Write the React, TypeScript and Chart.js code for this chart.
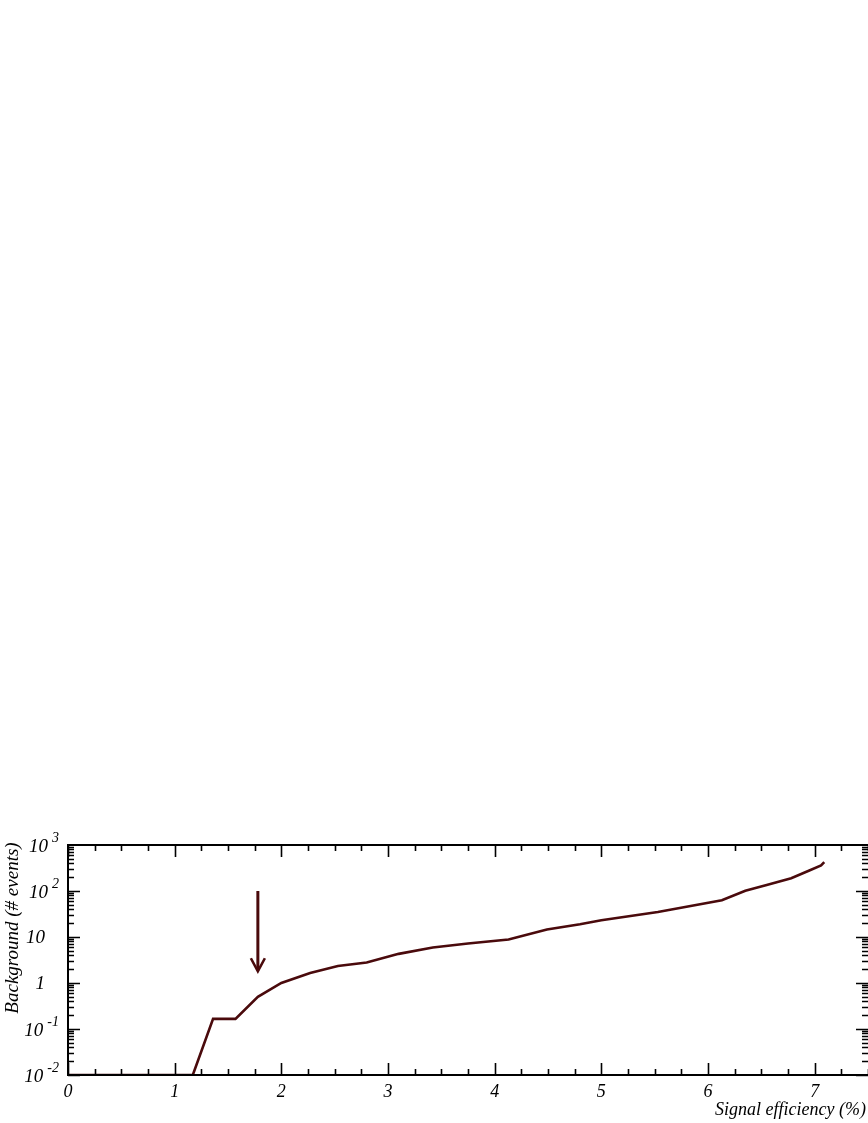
import React, { useEffect, useRef } from "react";
import { Chart, registerables } from "chart.js";

Chart.register(...registerables);

const efficiency = [0, 1.17, 1.36, 1.57, 1.78, 2.0, 2.27, 2.53, 2.8, 3.1, 3.42, 3.75, 4.13, 4.49, 4.8, 5.0, 5.53, 6.13, 6.35, 6.55, 6.78, 6.95, 7.06, 7.09];
const background = [0.01, 0.01, 0.166, 0.166, 0.5, 1.0, 1.65, 2.35, 2.78, 4.3, 5.9, 7.2, 8.8, 14.6, 19, 23.2, 35, 63, 101, 135, 190, 280, 360, 425];

const xTickValues = [0, 1, 2, 3, 4, 5, 6, 7];
const xTickLabels = ["0", "1", "2", "3", "4", "5", "6", "7"];
const yTickValues = [0.01, 0.1, 1, 10, 100, 1000];
const yTickBase = ["10", "10", "1", "10", "10", "10"];
const yTickExp = ["-2", "-1", "", "", "2", "3"];

const arrowAt = { x: 1.78, from: 100, to: 1.8 };

const xTitle = "Signal efficiency (%)";
const yTitle = "Background (# events)";

const LINE_COLOR = "#4a0a0c";
const FONT = "'Liberation Serif', 'Times New Roman', serif";

const framePlugin = {
  id: "frame",
  afterDatasetsDraw(chart: any) {
    const ctx = chart.ctx;
    const { left, right, top, bottom } = chart.chartArea;
    const xs = chart.scales.x;
    const ys = chart.scales.y;
    ctx.save();

    // arrow
    const ax = xs.getPixelForValue(arrowAt.x);
    const ay1 = ys.getPixelForValue(arrowAt.from);
    const ay2 = ys.getPixelForValue(arrowAt.to);
    ctx.strokeStyle = LINE_COLOR;
    ctx.lineWidth = 3;
    ctx.lineCap = "butt";
    ctx.beginPath();
    ctx.moveTo(ax, ay1);
    ctx.lineTo(ax, ay2 - 1);
    ctx.stroke();
    ctx.lineWidth = 2.6;
    ctx.beginPath();
    ctx.moveTo(ax - 7, ay2 - 13);
    ctx.lineTo(ax, ay2);
    ctx.lineTo(ax + 7, ay2 - 13);
    ctx.stroke();

    // frame
    ctx.strokeStyle = "#000";
    ctx.lineWidth = 2;
    ctx.beginPath();
    ctx.moveTo(right + 2, top);
    ctx.lineTo(left, top);
    ctx.lineTo(left, bottom);
    ctx.lineTo(right + 2, bottom);
    ctx.stroke();

    // x ticks
    ctx.lineWidth = 1.6;
    ctx.beginPath();
    for (let v = 0; v <= 7.5 + 1e-9; v += 0.25) {
      const px = Math.round(xs.getPixelForValue(v)) + 0.5;
      const major = Math.abs(v - Math.round(v)) < 1e-6;
      const len = major ? 12 : 6;
      ctx.moveTo(px, bottom);
      ctx.lineTo(px, bottom - len);
      ctx.moveTo(px, top);
      ctx.lineTo(px, top + len);
    }
    ctx.stroke();

    // y ticks (log)
    ctx.beginPath();
    for (let e = -2; e <= 2; e++) {
      for (let m = 1; m <= 9; m++) {
        const v = m * Math.pow(10, e);
        const py = Math.round(ys.getPixelForValue(v)) + 0.5;
        const len = m === 1 ? 12 : 6;
        ctx.moveTo(left, py);
        ctx.lineTo(left + len, py);
        ctx.moveTo(right, py);
        ctx.lineTo(right - len, py);
      }
    }
    ctx.stroke();

    // x tick labels
    ctx.fillStyle = "#000";
    ctx.font = `italic 18px ${FONT}`;
    ctx.textAlign = "center";
    ctx.textBaseline = "alphabetic";
    xTickValues.forEach((v, i) => {
      ctx.fillText(xTickLabels[i], xs.getPixelForValue(v), bottom + 22);
    });

    // y tick labels
    yTickValues.forEach((v, i) => {
      const py = ys.getPixelForValue(v);
      const exp = yTickExp[i];
      ctx.textBaseline = "middle";
      if (exp) {
        ctx.font = `italic 14px ${FONT}`;
        ctx.textAlign = "right";
        ctx.fillText(exp, 59, py - 7);
        const ew = ctx.measureText(exp).width;
        ctx.font = `italic 19px ${FONT}`;
        ctx.fillText(yTickBase[i], 59 - ew - 4, py + 2);
      } else {
        ctx.font = `italic 19px ${FONT}`;
        ctx.textAlign = "right";
        ctx.fillText(yTickBase[i], 45, py + 1);
      }
    });

    // titles
    ctx.font = `italic 18px ${FONT}`;
    ctx.textAlign = "right";
    ctx.textBaseline = "alphabetic";
    ctx.fillText(xTitle, 866, 1115);

    ctx.save();
    ctx.font = `italic 19px ${FONT}`;
    ctx.translate(18, 928);
    ctx.rotate(-Math.PI / 2);
    ctx.textAlign = "center";
    ctx.fillText(yTitle, 0, 0);
    ctx.restore();

    ctx.restore();
  },
};

export default function App() {
  const ref = useRef<HTMLCanvasElement | null>(null);
  useEffect(() => {
    if (!ref.current) return;
    const chart = new Chart(ref.current, {
      type: "line",
      data: {
        datasets: [
          {
            data: efficiency.map((x, i) => ({ x, y: background[i] })),
            borderColor: LINE_COLOR,
            borderWidth: 2.6,
            pointRadius: 0,
            tension: 0,
            fill: false,
          },
        ],
      },
      options: {
        responsive: false,
        animation: false,
        devicePixelRatio: 1,
        layout: { padding: { left: 68, right: 0, top: 845, bottom: 48 } },
        plugins: { legend: { display: false }, tooltip: { enabled: false } },
        scales: {
          x: { type: "linear", min: 0, max: 7.5, display: false },
          y: { type: "logarithmic", min: 0.01, max: 1000, display: false },
        },
      },
      plugins: [framePlugin],
    });
    return () => chart.destroy();
  }, []);
  return (
    <div style={{ position: "absolute", left: 0, top: 0, width: 868, height: 1123, background: "#fff" }}>
      <canvas ref={ref} width={868} height={1123} style={{ display: "block", width: 868, height: 1123 }} />
    </div>
  );
}
